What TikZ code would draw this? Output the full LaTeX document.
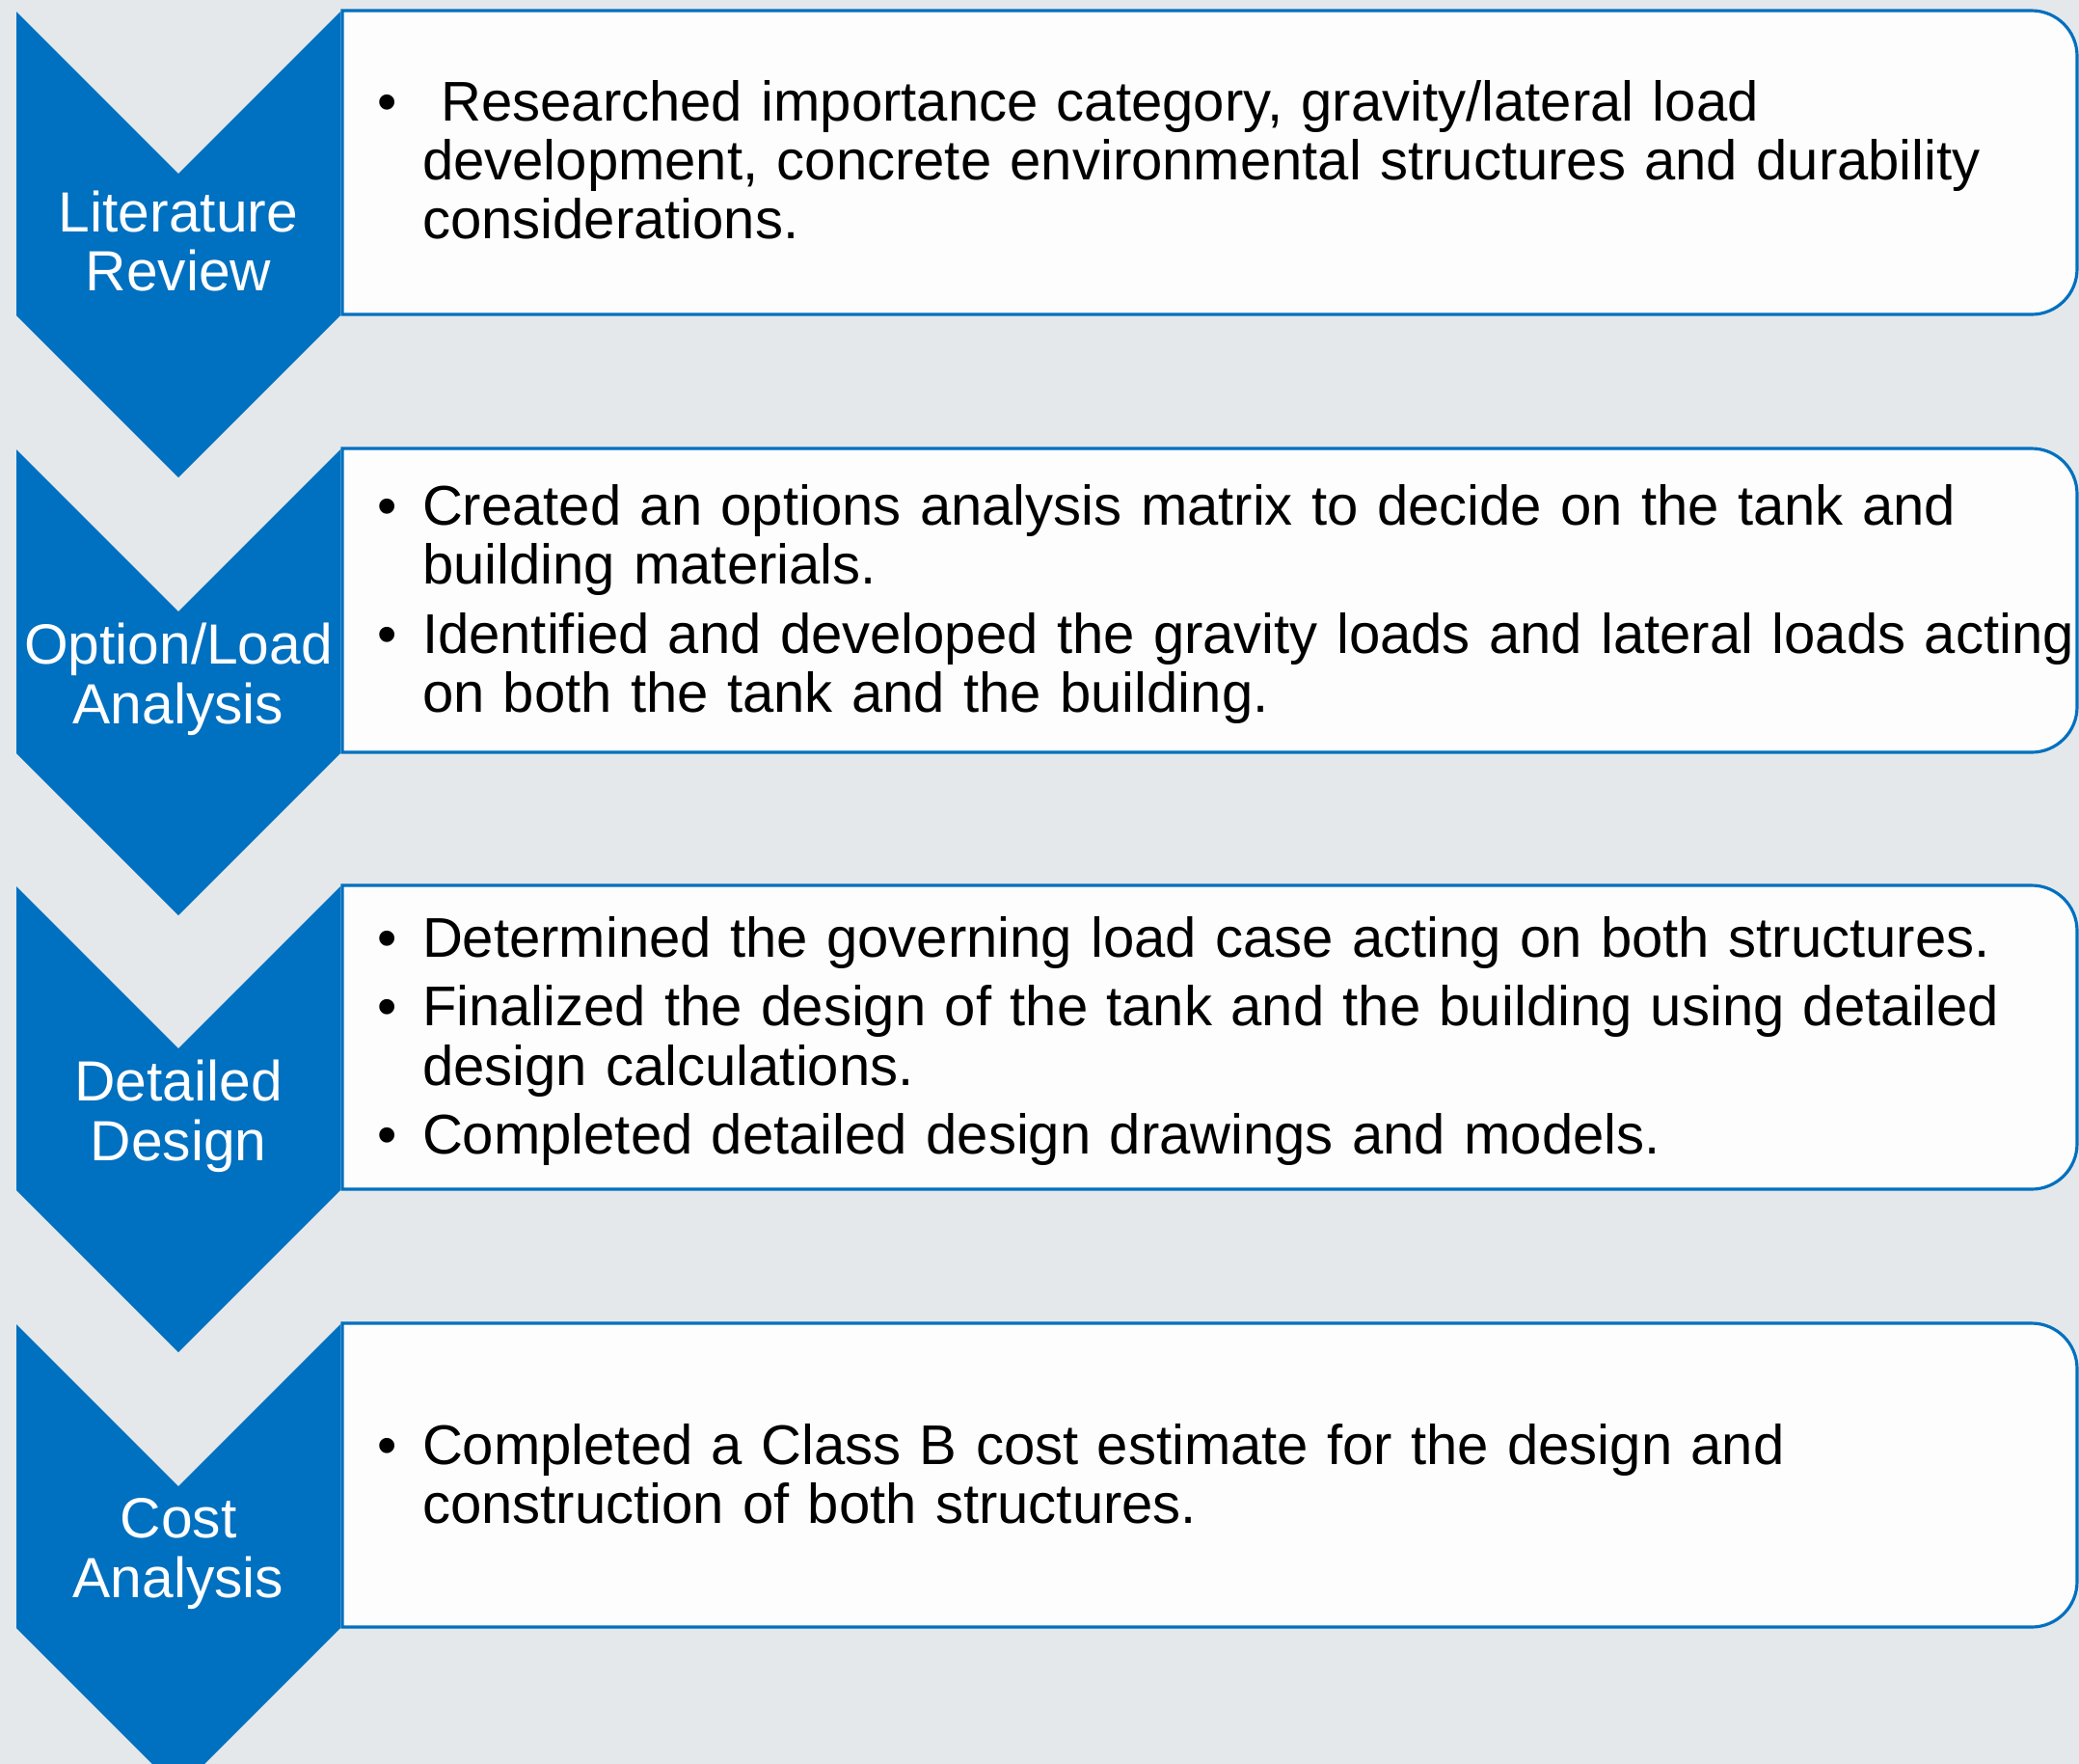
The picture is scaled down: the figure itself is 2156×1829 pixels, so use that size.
\documentclass[tikz,border=0pt]{standalone}
\usepackage{fontspec}
\setmainfont{Liberation Sans}
\usetikzlibrary{positioning}
\definecolor{stageblue}{RGB}{0,112,192}
\definecolor{pagegrey}{RGB}{228,232,234}
\definecolor{cardwhite}{RGB}{253,253,253}
\tikzset{
  stagelabel/.style={text=white, align=center, inner sep=0pt,
    font=\fontsize{16.7}{17.6}\selectfont},
  cardtext/.style={anchor=west, text width=540pt, align=left, inner sep=0pt,
    font=\fontsize{16.5}{17.4}\selectfont\setlength{\parskip}{2.8pt}},
  cardedge/.style={draw=stageblue, line width=0.9pt, fill=cardwhite}
}
% chevron: #1 node name, #2 top y, #3 label
\newcommand{\stagearrow}[3]{%
  \fill[stageblue] (17,#2) -- (185,#2+168) -- (353,#2) -- (353,#2+315)
        -- (185,#2+483) -- (17,#2+315) -- cycle;
  \node[stagelabel] (#1) at (185,#2+238) {#3};}
% card with rounded right side: #1 node name, #2 top y, #3 text offset, #4 points
\newcommand{\stagecard}[4]{%
  \path[cardedge] (355,#2+157) -- (355,#2) -- (1200,#2) [rounded corners=13.4pt]
        -- (2154,#2) -- (2154,#2+157) -- (2154,#2+315) -- (1200,#2+315)
        [sharp corners] -- (355,#2+315) -- cycle;
  \node[cardtext] (#1) at (391,#2+#3) {#4};}
\newcommand{\cardpoint}[1]{%
  \par\hangindent=13.2pt\hangafter=1\noindent\makebox[13.2pt][l]{\textbullet}#1\par}

\begin{document}
\begin{tikzpicture}[x=0.01cm, y=-0.01cm]
  \fill[pagegrey] (0,0) rectangle (2156,1829);
  \useasboundingbox (0,0) rectangle (2156,1829);
  \clip (0,0) rectangle (2156,1829);
  \stagearrow{litlabel}{12}{Literature\\Review}
  \stagearrow{optlabel}{466}{Option/Load\\Analysis}
  \stagearrow{detlabel}{919}{Detailed\\Design}
  \stagearrow{costlabel}{1373}{Cost\\Analysis}
  \stagecard{littext}{11}{140}{%
    \cardpoint{\ Researched importance category, gravity/lateral load\newline
      development, concrete environmental structures and durability\newline
      considerations.}}
  \stagecard{opttext}{465}{147}{%
    \cardpoint{Created an options analysis matrix to decide on the tank and\newline
      building materials.}
    \cardpoint{Identified and developed the gravity loads and lateral loads acting\newline
      on both the tank and the building.}}
  \stagecard{dettext}{918}{147}{%
    \cardpoint{Determined the governing load case acting on both structures.}
    \cardpoint{Finalized the design of the tank and the building using detailed\newline
      design calculations.}
    \cardpoint{Completed detailed design drawings and models.}}
  \stagecard{costtext}{1372}{142}{%
    \cardpoint{Completed a Class B cost estimate for the design and\newline
      construction of both structures.}}
\end{tikzpicture}
\end{document}
